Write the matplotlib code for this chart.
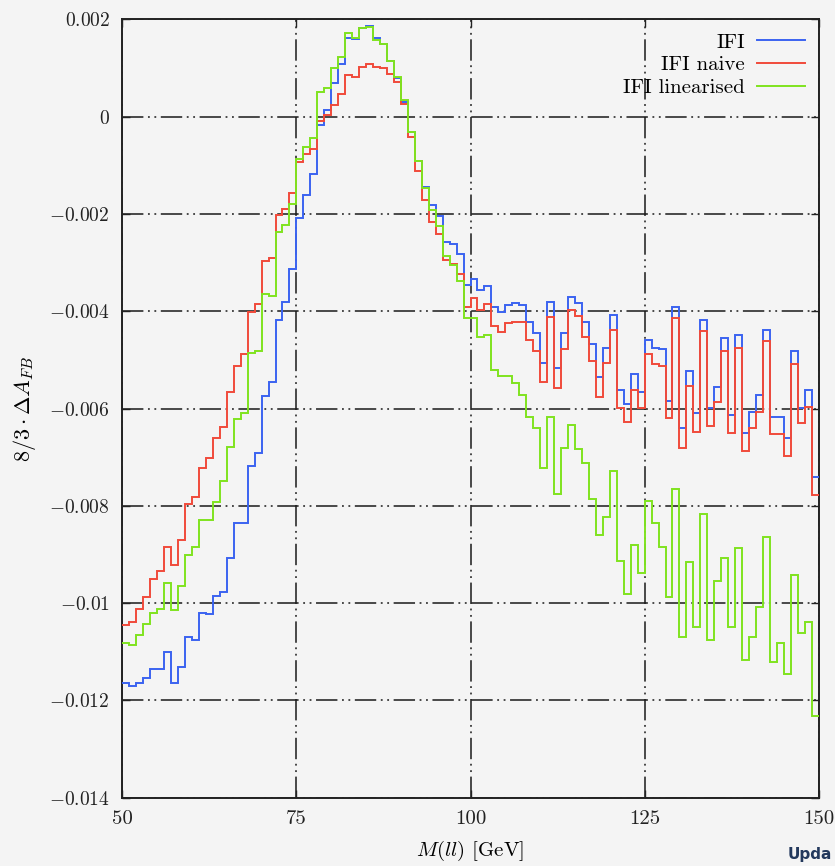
import numpy as np
import matplotlib
matplotlib.use("Agg")
import matplotlib.pyplot as plt

plt.rcParams['mathtext.fontset'] = 'cm'
plt.rcParams['font.family'] = ['cmr10', 'DejaVu Serif']
plt.rcParams['axes.unicode_minus'] = False

x_lo, x_hi, bin_w = 50, 150, 1

ifi = [-0.011634, -0.011702, -0.011634, -0.011538, -0.011359, -0.011359, -0.010997, -0.011634, -0.011305, -0.010689,
       -0.010757, -0.010195, -0.010223, -0.009852, -0.009776, -0.009071, -0.008358, -0.008358, -0.007180, -0.006919,
       -0.005735, -0.005460, -0.004185, -0.003815, -0.003137, -0.002088, -0.001610, -0.001178, -0.000171, 0.000138,
       0.000687, 0.001089, 0.001612, 0.001591, 0.001830, 0.001860, 0.001612, 0.001488, 0.001151, 0.000802,
       0.000308, -0.000321, -0.000904, -0.001445, -0.001815, -0.002041, -0.002569, -0.002617, -0.002822, -0.003459,
       -0.003342, -0.003562, -0.003474, -0.003905, -0.004008, -0.003871, -0.003836, -0.003871, -0.004214, -0.004440,
       -0.005056, -0.003809, -0.005159, -0.004440, -0.003700, -0.003836, -0.004214, -0.004672, -0.005357, -0.004748,
       -0.004076, -0.005618, -0.005906, -0.005295, -0.005665, -0.004590, -0.004748, -0.004781, -0.005838, -0.003905,
       -0.006406, -0.005221, -0.006097, -0.004179, -0.005994, -0.005562, -0.004555, -0.006132, -0.004487, -0.006508,
       -0.006064, -0.005721, -0.004384, -0.006167, -0.006167, -0.006611, -0.004816, -0.005994, -0.005618, -0.007400]

ifi_naive = [-0.010455, -0.010387, -0.010113, -0.009879, -0.009509, -0.009332, -0.008839, -0.009209, -0.008701, -0.007961,
             -0.007817, -0.007215, -0.007009, -0.006611, -0.006372, -0.005665, -0.005124, -0.004878, -0.004014, -0.003844,
             -0.002966, -0.002898, -0.002014, -0.001891, -0.001575, -0.000925, -0.000773, -0.000670, -0.000088, 0.000035,
             0.000240, 0.000467, 0.000857, 0.000810, 0.001015, 0.001080, 0.001028, 0.001010, 0.000877, 0.000719,
             0.000267, -0.000423, -0.001110, -0.001712, -0.002158, -0.002415, -0.002946, -0.003028, -0.003233, -0.003918,
             -0.003733, -0.003973, -0.003850, -0.004302, -0.004419, -0.004247, -0.004214, -0.004214, -0.004590, -0.004816,
             -0.005460, -0.004111, -0.005570, -0.004781, -0.003973, -0.004097, -0.004522, -0.005015, -0.005768, -0.005056,
             -0.004384, -0.005994, -0.006282, -0.005618, -0.005994, -0.004884, -0.005083, -0.005124, -0.006200, -0.004144,
             -0.006804, -0.005529, -0.006475, -0.004399, -0.006358, -0.005858, -0.004816, -0.006508, -0.004748, -0.006872,
             -0.006406, -0.006064, -0.004611, -0.006528, -0.006528, -0.006975, -0.005083, -0.006303, -0.005961, -0.007776]

ifi_lin = [-0.010824, -0.010859, -0.010654, -0.010428, -0.010195, -0.010113, -0.009579, -0.010140, -0.009647, -0.009009,
           -0.008839, -0.008296, -0.008296, -0.007920, -0.007488, -0.006783, -0.006208, -0.006097, -0.004851, -0.004823,
           -0.003645, -0.003679, -0.002364, -0.002220, -0.001795, -0.000876, -0.000617, -0.000444, 0.000502, 0.000584,
           0.000995, 0.001221, 0.001714, 0.001624, 0.001817, 0.001838, 0.001570, 0.001488, 0.001151, 0.000810,
           0.000337, -0.000308, -0.000904, -0.001459, -0.001918, -0.002240, -0.002863, -0.003048, -0.003371, -0.004144,
           -0.004144, -0.004522, -0.004487, -0.005207, -0.005330, -0.005330, -0.005468, -0.005730, -0.006170, -0.006406,
           -0.007215, -0.006179, -0.007756, -0.006804, -0.006344, -0.006837, -0.007112, -0.007858, -0.008598, -0.008235,
           -0.007289, -0.009126, -0.009811, -0.008804, -0.009373, -0.007893, -0.008358, -0.008839, -0.009866, -0.007659,
           -0.010689, -0.009147, -0.010483, -0.008167, -0.010757, -0.009544, -0.009077, -0.010483, -0.008872, -0.011168,
           -0.010689, -0.010072, -0.008633, -0.011202, -0.010824, -0.011462, -0.009414, -0.010619, -0.010393, -0.012313]

series_labels = ["IFI", "IFI naive", "IFI linearised"]
series_colors = ["#3a63f0", "#f04a3a", "#7fe31f"]

x_ticks = [50, 75, 100, 125, 150]
x_tick_labels = ["50", "75", "100", "125", "150"]
y_ticks = [0.002, 0, -0.002, -0.004, -0.006, -0.008, -0.01, -0.012, -0.014]
y_tick_labels = ["$0.002$", "$0$", "$-0.002$", "$-0.004$", "$-0.006$", "$-0.008$", "$-0.01$", "$-0.012$", "$-0.014$"]

bg = "#f4f4f4"
fig = plt.figure(figsize=(8.35, 8.66), dpi=100, facecolor=bg)
ax = fig.add_axes([0.1465, 0.0788, 0.834, 0.8988])
ax.set_facecolor(bg)

edges = np.arange(x_lo, x_hi + bin_w, bin_w)
for vals, lab, col in zip([ifi, ifi_naive, ifi_lin], series_labels, series_colors):
    ax.stairs(vals, edges, baseline=None, color=col, lw=1.4, label=lab, zorder=3)

ax.set_xlim(x_lo, x_hi)
ax.set_ylim(-0.014, 0.002)
ax.set_xticks(x_ticks)
ax.set_xticklabels(x_tick_labels)
ax.set_yticks(y_ticks)
ax.set_yticklabels(y_tick_labels)
ax.tick_params(direction='in', length=6, width=1, top=True, right=True,
               labelsize=14, colors='#222222', pad=9)
for lbl in ax.get_xticklabels():
    lbl.set_fontsize(15)

ax.grid(True, color='#1a1a1a', lw=1.1, linestyle=(0, (14, 3, 1.2, 3, 1.2, 3)), zorder=1)
for s in ax.spines.values():
    s.set_linewidth(1.4)
    s.set_color('#222222')

ax.set_xlabel(r'$M(ll)$ [GeV]', fontsize=15, labelpad=8)
ax.set_ylabel(r'$8/3\cdot\Delta A_{FB}$', fontsize=16, labelpad=8)

leg = ax.legend(loc='upper right', frameon=False, markerfirst=False, fontsize=15,
                handlelength=2.3, handletextpad=0.6, labelspacing=0.2,
                borderaxespad=0.25)

fig.text(832 / 835, 1 - 855 / 866, "Upda", fontsize=11, fontweight='bold',
         color='#23395d', family='DejaVu Sans', ha='right', va='center')

fig.savefig("out.png", dpi=100, facecolor=bg)
